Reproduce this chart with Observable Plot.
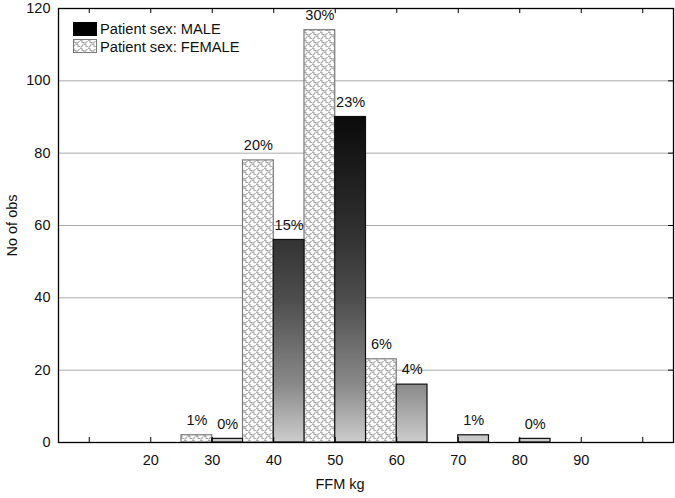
<!DOCTYPE html>
<html><head><meta charset="utf-8">
<script src="https://cdn.jsdelivr.net/npm/d3@7"></script>
<script src="https://cdn.jsdelivr.net/npm/@observablehq/plot@0.6"></script>
<style>
body{margin:0;background:#fff;font-family:"Liberation Sans",Arial,sans-serif}
#wrap{position:relative;width:675px;height:498px}
</style></head><body><div id="wrap"></div>
<script>
const binCenters = [30, 40, 50, 60, 70, 80];
const femaleCounts = [2, 78, 114, 23, 0, 0];
const maleCounts = [1, 56, 90, 16, 2, 1];
const xTicks = [10, 20, 30, 40, 50, 60, 70, 80, 90, 100];
const xTickLabels = [20, 30, 40, 50, 60, 70, 80, 90];
const yTicks = [0, 20, 40, 60, 80, 100, 120];
const seriesNames = ["Patient sex: MALE", "Patient sex: FEMALE"];
const binWidth = 10;

const total = d3.sum(femaleCounts) + d3.sum(maleCounts);
const bars = [];
binCenters.forEach((c, i) => {
  if (femaleCounts[i] > 0) bars.push({sex: "F", x1: c - binWidth / 2, x2: c, n: femaleCounts[i]});
  if (maleCounts[i] > 0) bars.push({sex: "M", x1: c, x2: c + binWidth / 2, n: maleCounts[i]});
});
bars.forEach(d => d.pct = Math.round(d.n / total * 100) + "%");

const chart = Plot.plot({
  width: 675, height: 498,
  marginLeft: 58, marginRight: 2, marginTop: 8, marginBottom: 56,
  style: {fontFamily: "Liberation Sans, Arial, sans-serif", fontSize: "14.5px", color: "#111", background: "white"},
  x: {domain: [5, 105]},
  y: {domain: [0, 120]},
  marks: [
    Plot.gridY(yTicks.filter(v => v > 0 && v < 120), {stroke: "#aaa", strokeOpacity: 1}),
    Plot.rectY(bars.filter(d => d.sex === "F"), {x1: "x1", x2: "x2", y: "n", fill: "url(#femaleHatch)", stroke: "#7a7a7a", strokeWidth: 1.2}),
    Plot.rectY(bars.filter(d => d.sex === "M"), {x1: "x1", x2: "x2", y: "n", fill: "url(#maleGrad)", stroke: "#111", strokeWidth: 1.2}),
    Plot.text(bars, {x: d => (d.x1 + d.x2) / 2, y: "n", text: "pct", dy: -15, fontSize: 14.5, fill: "#111"}),
    Plot.ruleX(xTicks, {y1: 0, y2: 1.4, stroke: "#000"}),
    Plot.ruleX(xTicks, {y1: 120, y2: 118.6, stroke: "#000"}),
    Plot.ruleY(yTicks.filter(v => v > 0 && v < 120), {x1: 105, x2: 104.2, stroke: "#000"}),
    Plot.frame({stroke: "#000", strokeWidth: 1.3}),
    Plot.axisX(xTickLabels, {tickSize: 0, tickPadding: 12, label: null, fontSize: 14.5}),
    Plot.axisY(yTicks, {tickSize: 0, tickPadding: 8, label: null, fontSize: 14.5}),
    Plot.text(["No of obs"], {frameAnchor: "left", textAnchor: "middle", rotate: -90, dx: -46, fontSize: 14.5, fill: "#111"}),
    Plot.text(["FFM kg"], {frameAnchor: "bottom", textAnchor: "middle", dy: 46, dx: -26, fontSize: 14.5, fill: "#111"})
  ]
});

const ns = "http://www.w3.org/2000/svg";
const el = (tag, attrs, parent) => {
  const e = document.createElementNS(ns, tag);
  for (const k in attrs) e.setAttribute(k, attrs[k]);
  if (parent) parent.appendChild(e);
  return e;
};
const ys = chart.scale("y");
const defs = el("defs", {});
chart.insertBefore(defs, chart.firstChild);
const pat = el("pattern", {id: "femaleHatch", patternUnits: "userSpaceOnUse", width: 8, height: 8}, defs);
el("rect", {width: 8, height: 8, fill: "#fff"}, pat);
el("path", {d: "M0,0.5h2v2h2v2h2v2h2M5,3.5L7.5,1M0.5,7.5L3,5", stroke: "#ababab", "stroke-width": 1.1, fill: "none"}, pat);
const grad = el("linearGradient", {id: "maleGrad", gradientUnits: "userSpaceOnUse", x1: 0, x2: 0, y1: ys.apply(92), y2: ys.apply(0)}, defs);
[[0, "#080808"], [0.39, "#333"], [0.57, "#4d4d4d"], [0.83, "#8a8a8a"], [1, "#cdcdcd"]].forEach(([o, c]) => el("stop", {offset: o, "stop-color": c}, grad));

// legend
const lg = el("g", {"font-family": "Liberation Sans, Arial, sans-serif", "font-size": 14.7, fill: "#111", "text-anchor": "start"}, chart);
el("rect", {x: 73, y: 22, width: 24, height: 14, fill: "#000"}, lg);
el("rect", {x: 73.5, y: 39.5, width: 23, height: 13, fill: "url(#femaleHatch)", stroke: "#7a7a7a"}, lg);
const t1 = el("text", {x: 100, y: 34}, lg); t1.textContent = seriesNames[0];
const t2 = el("text", {x: 100, y: 52}, lg); t2.textContent = seriesNames[1];

document.getElementById("wrap").appendChild(chart);
</script></body></html>
